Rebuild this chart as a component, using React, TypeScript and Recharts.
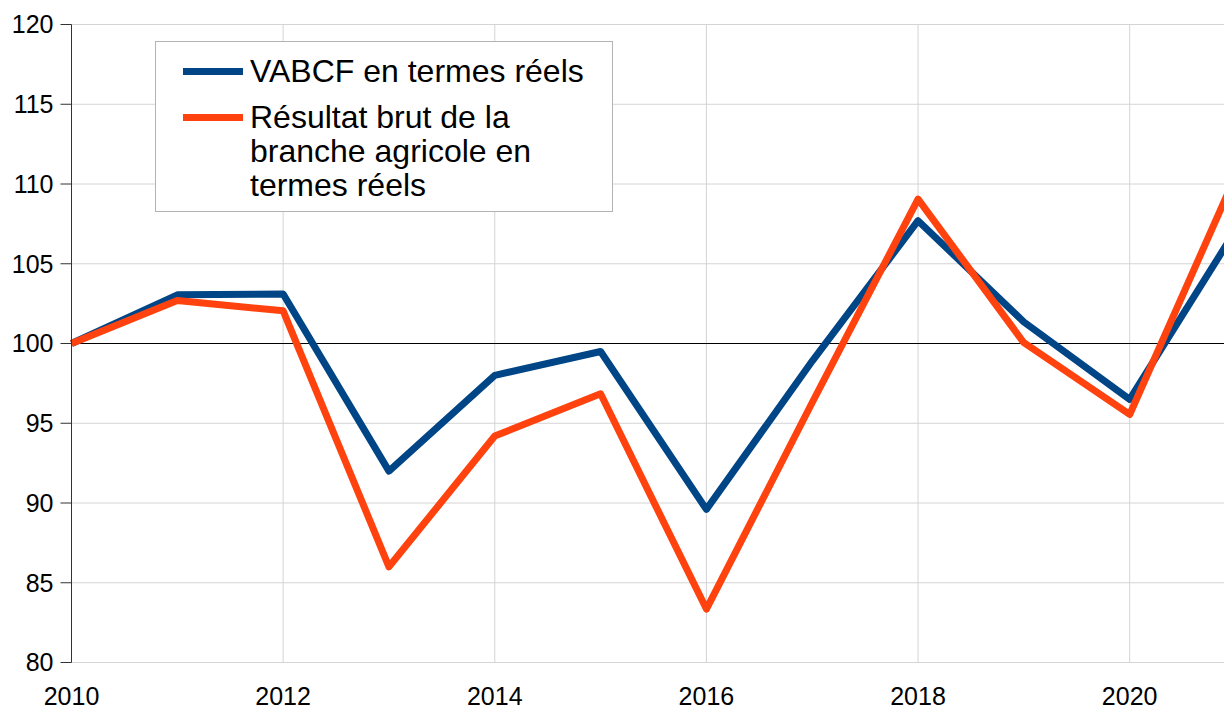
import React from 'react';
import { LineChart, Line, XAxis, YAxis, CartesianGrid, ReferenceLine, Legend } from 'recharts';

const FONT = '"Liberation Sans", Arial, sans-serif';

const years = [2010, 2011, 2012, 2013, 2014, 2015, 2016, 2017, 2018, 2019, 2020, 2021];
const vabcf = [100, 103.05, 103.1, 92.0, 98.0, 99.5, 89.6, 98.9, 107.7, 101.35, 96.5, 107.1];
const resultat = [100, 102.7, 102.05, 86.0, 94.2, 96.85, 83.35, 96.3, 109.05, 100.05, 95.55, 110.5];

const xTicks = [2010, 2012, 2014, 2016, 2018, 2020];
const yTicks = [80, 85, 90, 95, 100, 105, 110, 115, 120];

const seriesNames = ['VABCF en termes réels', 'Résultat brut de la branche agricole en termes réels'];
const seriesColors = ['#004586', '#ff420e'];

const data = years.map((year, i) => ({ year, vabcf: vabcf[i], resultat: resultat[i] }));

const LegendBox = () => (
  <div
    style={{
      width: 458,
      height: 171,
      boxSizing: 'border-box',
      border: '1px solid #b3b3b3',
      background: '#fff',
      padding: '12px 0 0 0',
      fontFamily: FONT,
      fontSize: 32,
      lineHeight: '34px',
      color: '#000',
    }}
  >
    {seriesNames.map((name, i) => (
      <div key={name} style={{ display: 'flex', alignItems: 'flex-start', marginBottom: 12 }}>
        <div style={{ width: 60, height: 7, background: seriesColors[i], marginLeft: 27, marginTop: 14 }} />
        <div style={{ marginLeft: 7, width: 360 }}>{name}</div>
      </div>
    ))}
  </div>
);

export default function App() {
  // the chart runs past the right edge (2021 is cut off), so the page is clipped to the window
  return (
    <div
      style={{
        width: 1224,
        height: 709,
        overflow: 'hidden',
        boxSizing: 'border-box',
        paddingLeft: 8,
        paddingTop: 8,
        background: '#fff',
      }}
    >
      <style>{'body { margin: 0; }'}</style>
      <LineChart width={1240} height={701} data={data} margin={{ top: 16.5, right: 12.5, left: 0.5, bottom: 16.5 }}>
        <CartesianGrid stroke="#d4d4d4" strokeWidth={1} />
        <XAxis
          dataKey="year"
          type="number"
          domain={[2010, 2021]}
          ticks={xTicks}
          axisLine={false}
          tickLine={false}
          tickSize={0}
          tickMargin={25}
          height={30}
          tick={{ fill: '#000', fontSize: 25, fontFamily: FONT }}
        />
        <YAxis
          type="number"
          domain={[80, 120]}
          ticks={yTicks}
          width={63}
          axisLine={{ stroke: '#333', strokeWidth: 1 }}
          tickLine={{ stroke: '#333', strokeWidth: 1 }}
          tickSize={11}
          tickMargin={7}
          tick={{ fill: '#000', fontSize: 25, fontFamily: FONT }}
        />
        <ReferenceLine y={100} stroke="#000" strokeWidth={1} />
        <Line
          dataKey="vabcf"
          name={seriesNames[0]}
          type="linear"
          stroke={seriesColors[0]}
          strokeWidth={7}
          strokeLinejoin="round"
          dot={false}
          isAnimationActive={false}
        />
        <Line
          dataKey="resultat"
          name={seriesNames[1]}
          type="linear"
          stroke={seriesColors[1]}
          strokeWidth={7}
          strokeLinejoin="round"
          dot={false}
          isAnimationActive={false}
        />
        <Legend
          layout="vertical"
          align="center"
          verticalAlign="middle"
          content={<LegendBox />}
          wrapperStyle={{ left: 147, top: 33, width: 458, height: 171 }}
        />
      </LineChart>
    </div>
  );
}
